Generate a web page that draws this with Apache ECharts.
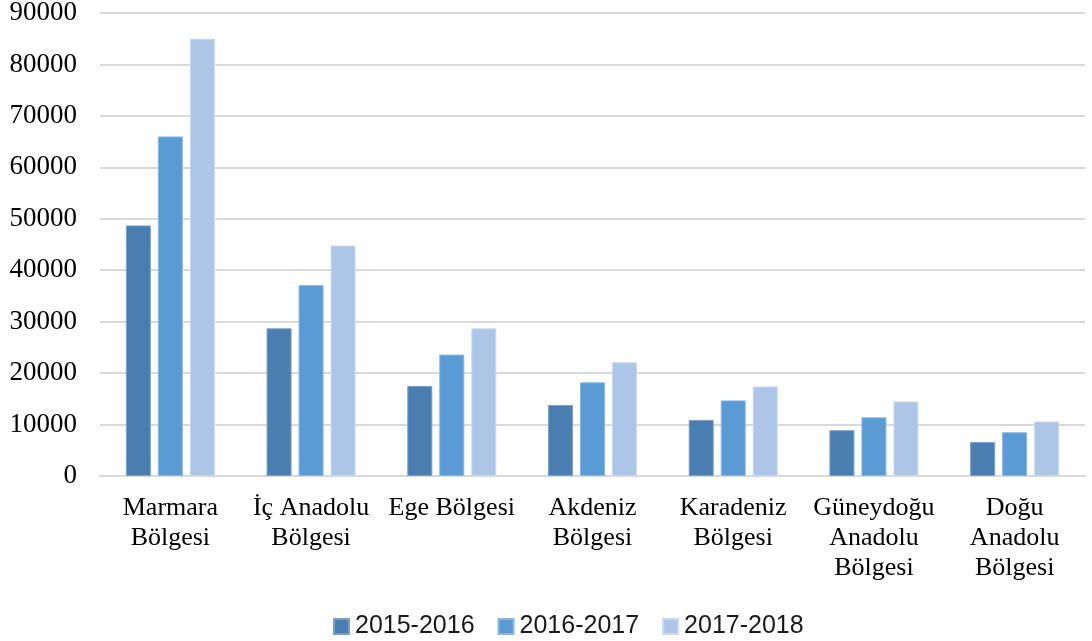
<!DOCTYPE html>
<html>
<head>
<meta charset="utf-8">
<script src="https://cdn.jsdelivr.net/npm/echarts@6/dist/echarts.min.js"></script>
<style>
  html, body { margin: 0; padding: 0; background: #fff; }
  #chart { width: 1092px; height: 641px; }
</style>
</head>
<body>
<div id="chart"></div>
<script>
// bölgeler
var regions = [
  'Marmara\nBölgesi',
  'İç Anadolu\nBölgesi',
  'Ege Bölgesi',
  'Akdeniz\nBölgesi',
  'Karadeniz\nBölgesi',
  'Güneydoğu\nAnadolu\nBölgesi',
  'Doğu\nAnadolu\nBölgesi'
]
var years = ['2015-2016', '2016-2017', '2017-2018']
var y2015 = [48700, 28700, 17500, 13800, 10900, 8900, 6600]
var y2016 = [66000, 37100, 23600, 18200, 14700, 11400, 8500]
var y2017 = [85000, 44800, 28700, 22100, 17400, 14500, 10600]

var colors = ['#4a7eb0', '#5b9bd5', '#adc5e6']
var borders = ['#7aa0c8', '#8ab7e0', '#c9daef']

var chart = echarts.init(document.getElementById('chart'))

function bar(name, data, i) {
  return {
    name: name,
    type: 'bar',
    data: data,
    barWidth: 25,
    barGap: '28%',
    itemStyle: {
      color: colors[i],
      borderColor: borders[i],
      borderWidth: 1
    }
  }
}

chart.setOption({
  animation: false,
  color: colors,
  grid: {
    left: 100,
    right: 7,
    top: 13,
    bottom: 165,
    containLabel: false,
    outerBoundsMode: 'none'
  },
  legend: {
    data: years,
    top: 609,
    left: 328,
    itemWidth: 15,
    itemHeight: 15,
    itemGap: 23,
    icon: 'rect',
    textStyle: {
      fontFamily: 'Liberation Sans',
      fontSize: 25,
      color: '#1a1a1a',
      padding: [0, 0, 0, 1]
    }
  },
  xAxis: {
    type: 'category',
    data: regions,
    axisTick: { show: false },
    axisLine: { lineStyle: { color: '#d9d9d9', width: 2 } },
    axisLabel: {
      interval: 0,
      margin: 17,
      fontFamily: 'Liberation Serif',
      fontSize: 26,
      lineHeight: 30,
      color: '#000'
    }
  },
  yAxis: {
    type: 'value',
    min: 0,
    max: 90000,
    interval: 10000,
    axisLine: { show: false },
    axisTick: { show: false },
    splitLine: { lineStyle: { color: '#d9d9d9', width: 2 } },
    axisLabel: {
      margin: 23,
      fontFamily: 'Liberation Serif',
      fontSize: 27,
      color: '#000',
      formatter: function (v) { return String(v) }
    }
  },
  series: [
    bar(years[0], y2015, 0),
    bar(years[1], y2016, 1),
    bar(years[2], y2017, 2)
  ]
})
</script>
</body>
</html>
